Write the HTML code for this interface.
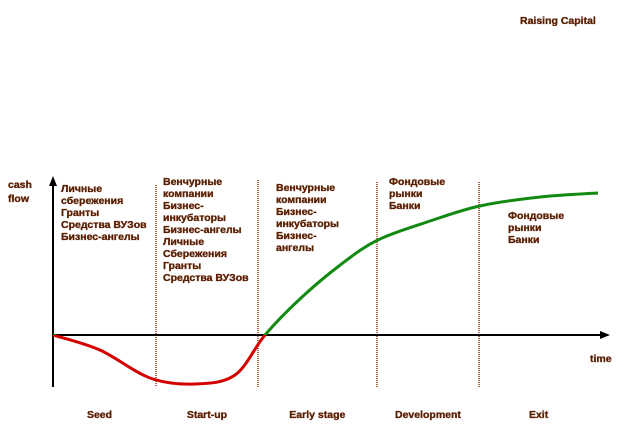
<!DOCTYPE html>
<html><head><meta charset="utf-8"><style>
body{margin:0;background:#fff}
svg text{font-family:"Liberation Sans","Noto Sans CJK SC",sans-serif;font-weight:bold;fill:#5a1e00;stroke:#5a1e00;stroke-width:0.35;font-size:10.5px}
</style></head><body>
<svg width="628" height="441" viewBox="0 0 628 441">
<defs>
<clipPath id="above"><rect x="0" y="0" width="628" height="335"/></clipPath>
<clipPath id="below"><rect x="0" y="335" width="628" height="106"/></clipPath>
</defs>
<text x="520" y="24" font-size="9">Raising Capital</text>
<g id="dividers"></g>
<line x1="53" y1="387" x2="53" y2="182" stroke="#000" stroke-width="2"/>
<polygon points="53,176 49,186 57,186" fill="#000"/>
<line x1="53" y1="335" x2="602" y2="335" stroke="#000" stroke-width="2"/>
<polygon points="610,335 600,331 600,339" fill="#000"/>
<text x="8" y="188" font-size="11"><tspan x="8">cash</tspan><tspan x="8" dy="14">flow</tspan></text>
<text x="590" y="362" font-size="11">time</text>
<path id="curveRed" clip-path="url(#below)" fill="none" stroke="#d40000" stroke-width="3"/>
<path id="curveGreen" clip-path="url(#above)" fill="none" stroke="#128a12" stroke-width="3"/>
<g id="notes"></g>
<g id="stages"></g>
</svg>
<script>
const times=[0,0.86,1.78,2.6,3.34,3.89,4.53,5.27,5.96,6.92,7.83,8.94,10];
const values=[0,-1.5,-4.3,-4.9,-4.0,0,3.6,7.0,9.5,11.4,12.9,13.8,14.2];
const stageNames=["Seed","Start-up","Early stage","Development","Exit"];
const stageBounds=[0,1.89,3.76,5.94,7.82,10];
const xS=t=>53+t*54.5, yS=v=>335-v*10;
const pts=times.map((t,i)=>[xS(t),yS(values[i])]);
let d=`M${pts[0][0]},${pts[0][1]}`;
for(let i=0;i<pts.length-1;i++){
 const p0=pts[Math.max(0,i-1)],p1=pts[i],p2=pts[i+1],p3=pts[Math.min(pts.length-1,i+2)];
 d+=` C${p1[0]+(p2[0]-p0[0])/6},${p1[1]+(p2[1]-p0[1])/6} ${p2[0]-(p3[0]-p1[0])/6},${p2[1]-(p3[1]-p1[1])/6} ${p2[0]},${p2[1]}`;
}
document.getElementById('curveRed').setAttribute('d',d);
document.getElementById('curveGreen').setAttribute('d',d);
const NS='http://www.w3.org/2000/svg';
const dv=document.getElementById('dividers');
const tops=[185,180,182,182];
for(let i=1;i<stageBounds.length-1;i++){
 const l=document.createElementNS(NS,'line');
 const x=Math.round(xS(stageBounds[i]));
 l.setAttribute('x1',x);l.setAttribute('x2',x);l.setAttribute('y1',tops[i-1]);l.setAttribute('y2',387);
 l.setAttribute('stroke','#9a3a10');l.setAttribute('stroke-width','1.5');l.setAttribute('stroke-dasharray','1 1');
 
 
 dv.appendChild(l);
}
const sg=document.getElementById('stages');
stageNames.forEach((n,i)=>{
 const t=document.createElementNS(NS,'text');
 t.setAttribute('x',(xS(stageBounds[i])+xS(stageBounds[i+1]))/2+(i==0?-5:0));t.setAttribute('y',418);
 t.setAttribute('text-anchor','middle');t.setAttribute('font-size','11.5');t.textContent=n;
 
 
 sg.appendChild(t);
});
const notes=[
 [61,192,["Личные","сбережения","Гранты","Средства ВУЗов","Бизнес-ангелы"]],
 [163,185,["Венчурные","компании","Бизнес-","инкубаторы","Бизнес-ангелы","Личные","Сбережения","Гранты","Средства ВУЗов"]],
 [276,191,["Венчурные","компании","Бизнес-","инкубаторы","Бизнес-","ангелы"]],
 [389,185,["Фондовые","рынки","Банки"]],
 [508,219,["Фондовые","рынки","Банки"]]
];
const ng=document.getElementById('notes');
notes.forEach(([x,y,lines])=>{
 const t=document.createElementNS(NS,'text');
 t.setAttribute('x',x);t.setAttribute('y',y);
 
 
 lines.forEach((s,j)=>{const sp=document.createElementNS(NS,'tspan');sp.setAttribute('x',x);sp.setAttribute('dy',j?12:0);sp.textContent=s;t.appendChild(sp);});
 ng.appendChild(t);
});
</script>
</body></html>
